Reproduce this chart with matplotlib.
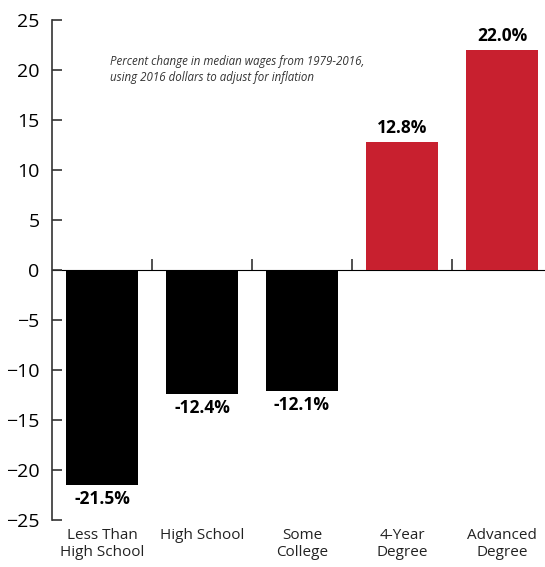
import matplotlib.pyplot as plt

categories = ["Less Than\nHigh School", "High School", "Some\nCollege", "4-Year\nDegree", "Advanced\nDegree"]
changes = [-21.5, -12.4, -12.1, 12.8, 22.0]
y_ticks = [25, 20, 15, 10, 5, 0, -5, -10, -15, -20, -25]

plt.rcParams['font.family'] = ['Open Sans', 'DejaVu Sans']

fig = plt.figure(figsize=(5.45, 5.67), dpi=100)
ax = fig.add_axes([52 / 545, 1 - 520 / 567, 1 - 52 / 545, 500 / 567])

colors = ["#c8202f" if v > 0 else "black" for v in changes]
x = list(range(len(categories)))
ax.bar(x, changes, width=0.72, color=colors, zorder=2)

for xi, v in zip(x, changes):
    if v > 0:
        ax.text(xi, v + 0.5, f"{v:.1f}%", ha="center", va="bottom",
                fontsize=12.5, fontweight="bold")
    else:
        ax.text(xi, v - 0.5, f"{v:.1f}%", ha="center", va="top",
                fontsize=12.5, fontweight="bold")

ax.set_xlim(-0.5, 4.43)
ax.set_ylim(-25, 25)
ax.set_yticks(y_ticks)
ax.set_xticks(x)
ax.set_xticklabels(categories, fontsize=11, color="#222222", linespacing=1.15)
ax.tick_params(axis="x", length=0, pad=6)
ax.tick_params(axis="y", direction="in", length=7, width=1.2, labelsize=14,
               pad=9, color="#333333")

for s in ["top", "right", "bottom"]:
    ax.spines[s].set_visible(False)
ax.spines["left"].set_linewidth(1.2)
ax.spines["left"].set_color("#333333")

# zero line with boundary ticks pointing up
zero = ax.secondary_xaxis(0.5)
zero.set_xticks([0.5, 1.5, 2.5, 3.5])
zero.set_xticklabels([])
zero.tick_params(direction="out", length=8, width=1.2, color="#333333")
zero.spines["bottom"].set_linewidth(1.2)
zero.spines["bottom"].set_color("#333333")

ax.text(0.08, 21.5, "Percent change in median wages from 1979-2016,\n"
        "using 2016 dollars to adjust for inflation",
        fontsize=8.3, style="italic", color="#333333", va="top",
        linespacing=1.3)

fig.savefig("out.png", dpi=100)
